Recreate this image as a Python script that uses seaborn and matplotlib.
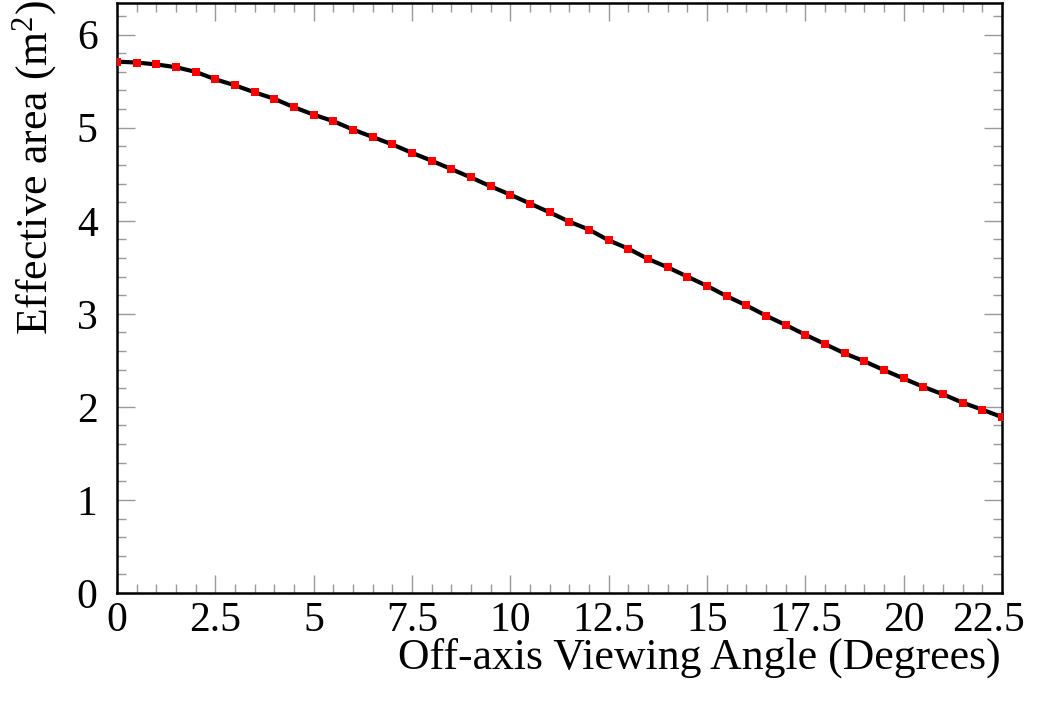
import matplotlib
matplotlib.use("Agg")
import matplotlib.pyplot as plt
import matplotlib.transforms as mtransforms
import seaborn as sns
import pandas as pd
from matplotlib.ticker import MultipleLocator, FuncFormatter

angles = [0.0, 0.5, 1.0, 1.5, 2.0, 2.5, 3.0, 3.5, 4.0, 4.5, 5.0, 5.5, 6.0, 6.5,
          7.0, 7.5, 8.0, 8.5, 9.0, 9.5, 10.0, 10.5, 11.0, 11.5, 12.0, 12.5, 13.0,
          13.5, 14.0, 14.5, 15.0, 15.5, 16.0, 16.5, 17.0, 17.5, 18.0, 18.5, 19.0,
          19.5, 20.0, 20.5, 21.0, 21.5, 22.0, 22.5]
area = [5.71, 5.70, 5.68, 5.65, 5.60, 5.52, 5.455, 5.38, 5.31, 5.22, 5.14, 5.07,
        4.98, 4.90, 4.82, 4.73, 4.645, 4.555, 4.465, 4.37, 4.28, 4.185, 4.09,
        3.99, 3.905, 3.79, 3.70, 3.59, 3.50, 3.40, 3.30, 3.19, 3.09, 2.98, 2.88,
        2.775, 2.675, 2.575, 2.49, 2.395, 2.305, 2.215, 2.135, 2.045, 1.97, 1.89]

x_label = "Off-axis Viewing Angle (Degrees)"
y_label = "Effective area (m$^{2}$)"

sns.set_theme(style="ticks")
plt.rcParams["font.family"] = ["Liberation Serif", "DejaVu Serif"]
plt.rcParams["mathtext.fontset"] = "custom"
plt.rcParams["mathtext.rm"] = "Liberation Serif"
plt.rcParams["mathtext.it"] = "Liberation Serif:italic"
plt.rcParams["mathtext.bf"] = "Liberation Serif:bold"
plt.rcParams["text.color"] = "black"
plt.rcParams["axes.labelcolor"] = "black"
plt.rcParams["xtick.labelcolor"] = "black"
plt.rcParams["ytick.labelcolor"] = "black"

df = pd.DataFrame({"angle": angles, "area": area})

fig = plt.figure(figsize=(10.37, 7.15), dpi=100)
ax = fig.add_axes([117 / 1037, 1 - 593 / 715, 885 / 1037, 590 / 715])

sns.lineplot(data=df, x="angle", y="area", ax=ax, color="black", linewidth=3.0)
sns.scatterplot(data=df, x="angle", y="area", ax=ax, color="#ff0000", marker="s",
                s=27, linewidth=0, zorder=3)

ax.set_xlim(0, 22.5)
ax.set_ylim(0, 6.34)

ax.xaxis.set_major_locator(MultipleLocator(2.5))
ax.xaxis.set_minor_locator(MultipleLocator(0.5))
ax.yaxis.set_major_locator(MultipleLocator(1))
ax.yaxis.set_minor_locator(MultipleLocator(0.2))
fmt = FuncFormatter(lambda v, p: ("%g" % v))
ax.xaxis.set_major_formatter(fmt)
ax.yaxis.set_major_formatter(fmt)

ax.tick_params(which="both", direction="in", top=True, right=True,
               color="#999999", width=1.0, labelsize=30, labelcolor="black")
ax.tick_params(which="major", length=13)
ax.tick_params(which="minor", length=6.5)
ax.tick_params(axis="x", which="major", pad=6)
ax.tick_params(axis="y", which="major", pad=14)

for sp in ax.spines.values():
    sp.set_visible(True)
    sp.set_color("black")
    sp.set_linewidth(1.8)

ax.set_xlabel(x_label, fontsize=31.5, loc="right")
ax.set_ylabel(y_label, fontsize=31.5, loc="top")
ax.xaxis.set_label_coords(0.998, -0.076)
ax.yaxis.set_label_coords(-0.066, 1.005)

# shift the last x tick label left so it stays inside the figure (as in the reference)
fig.canvas.draw()
for t in ax.xaxis.get_major_ticks():
    if abs(t.get_loc() - 22.5) < 1e-6:
        lbl = t.label1
        lbl.set_transform(lbl.get_transform() + mtransforms.ScaledTranslation(-14 / 100, 0, fig.dpi_scale_trans))

fig.savefig("out.png", dpi=100)
